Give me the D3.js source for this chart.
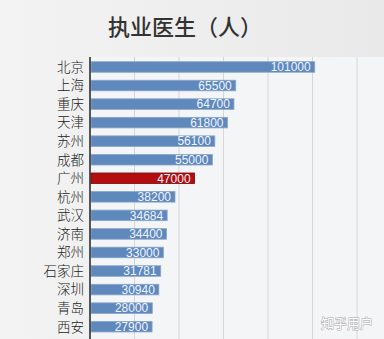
<!DOCTYPE html>
<html>
<head>
<meta charset="utf-8">
<script src="https://cdnjs.cloudflare.com/ajax/libs/d3/7.8.5/d3.min.js"></script>
<style>
  html, body { margin: 0; padding: 0; background: #ededed; }
  svg { display: block; }
</style>
</head>
<body>
<svg width="384" height="339"></svg>
<script>
let cities = ["北京", "上海", "重庆", "天津", "苏州", "成都", "广州", "杭州", "武汉", "济南", "郑州", "石家庄", "深圳", "青岛", "西安"];
let doctors = [101000, 65500, 64700, 61800, 56100, 55000, 47000, 38200, 34684, 34400, 33000, 31781, 30940, 28000, 27900];
let gridTicks = [0, 20000, 40000, 60000, 80000, 100000, 120000];
let highlight = "广州";

let svg = d3.select("svg"),
    margin = {top: 57, left: 90},
    W = +svg.attr("width"), H = +svg.attr("height");

let x = d3.scaleLinear().domain([0, 140000]).range([margin.left, margin.left + 311.5]);
let y = d3.scaleBand().domain(cities).range([57.7, 57.7 + 15 * 18.55]).paddingInner(0.43).paddingOuter(0.215);

// background
let bg = svg.append("defs").append("linearGradient").attr("id", "bg").attr("x1", 0).attr("x2", 1);
bg.append("stop").attr("offset", 0).attr("stop-color", "#f3f3f3");
bg.append("stop").attr("offset", 1).attr("stop-color", "#e9e9e9");
svg.append("rect").attr("width", W).attr("height", H).attr("fill", "url(#bg)");
svg.append("rect").attr("x", margin.left).attr("y", margin.top).attr("width", W - margin.left).attr("height", H - margin.top)
    .attr("fill", "#f4f5f7");

// title
svg.append("text")
    .attr("x", 185).attr("y", 35)
    .attr("text-anchor", "middle")
    .style("font", "500 22px 'Noto Sans CJK SC'")
    .style("fill", "#333")
    .text("执业医生（人）");

// grid
svg.append("g").selectAll("line")
  .data(gridTicks.slice(1))
  .enter().append("line")
    .attr("x1", (d) => x(d)).attr("x2", (d) => x(d))
    .attr("y1", margin.top).attr("y2", H)
    .style("stroke", "#d6d6d6").style("stroke-width", 1);

// bars
let g = svg.append("g");
g.selectAll("rect")
  .data(cities)
  .enter().append("rect")
    .attr("x", x(0) + 1)
    .attr("y", (d) => y(d))
    .attr("width", (d, i) => x(doctors[i]) - x(0) - 1)
    .attr("height", y.bandwidth())
    .style("fill", (d) => d == highlight ? "#b40d10" : "#5f88bd")
    .style("stroke", (d) => d == highlight ? "#7a0a0a" : "#8aa7cc")
    .style("stroke-width", 0.8);

g.selectAll(".val")
  .data(cities)
  .enter().append("text")
    .attr("class", "val")
    .attr("x", (d, i) => x(doctors[i]) - 4)
    .attr("y", (d) => y(d) + y.bandwidth() / 2)
    .attr("dy", "0.36em")
    .attr("text-anchor", "end")
    .style("font", "12px 'Liberation Sans', Arial, sans-serif")
    .style("fill", "#eef4ff")
    .text((d, i) => doctors[i]);

// category labels
svg.append("g").selectAll("text")
  .data(cities)
  .enter().append("text")
    .attr("x", 84)
    .attr("y", (d) => y(d) + y.bandwidth() / 2)
    .attr("dy", "0.36em")
    .attr("text-anchor", "end")
    .style("font", "300 13.5px 'Noto Sans CJK SC'")
    .style("fill", "#222")
    .text((d) => d);

// axis line
svg.append("line")
    .attr("x1", x(0)).attr("x2", x(0))
    .attr("y1", margin.top).attr("y2", H)
    .style("stroke", "#222").style("stroke-width", 1.5);

// watermark
svg.append("text")
    .attr("x", 373).attr("y", 328)
    .attr("text-anchor", "end")
    .style("font", "13px 'Noto Sans CJK SC'")
    .style("fill", "#fff")
    .style("paint-order", "stroke")
    .style("stroke", "#aaa").style("stroke-width", 1)
    .text("知乎用户");
</script>
</body>
</html>
